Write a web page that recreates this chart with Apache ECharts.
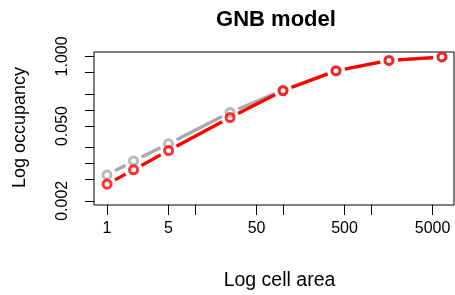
<!DOCTYPE html>
<html>
<head>
<meta charset="utf-8">
<script src="https://cdn.jsdelivr.net/npm/echarts@6/dist/echarts.min.js"></script>
<style>
  html, body { margin: 0; padding: 0; background: #fff; }
  #chart { width: 455px; height: 295px; }
</style>
</head>
<body>
<div id="chart"></div>
<script>
// cell areas and occupancies (both axes log10)
var areas = [1, 2, 5, 25, 100, 400, 1600, 6400];
var occObserved = [0.0061, 0.0111, 0.0232, 0.0894, 0.235, 0.53, 0.84, 0.975];
var occModel = [0.0041, 0.0076, 0.0174, 0.072, 0.228, 0.54, 0.84, 0.975];

var xTicks = [1, 5, 10, 50, 100, 500, 1000, 5000];
var xLabels = [1, 5, 50, 500, 5000];
var yTicks = [0.002, 0.005, 0.01, 0.02, 0.05, 0.1, 0.2, 0.5, 1];
var yLabels = [0.002, 0.05, 1];

var FONT = 'Liberation Sans';
var GAP = 9; // type="b" style gap round each point

function lg(v) { return Math.log10(v); }

function segments(name, ys, color, z) {
  var data = [];
  for (var i = 0; i < areas.length - 1; i++) {
    data.push([lg(areas[i]), lg(ys[i]), lg(areas[i + 1]), lg(ys[i + 1])]);
  }
  return {
    type: 'custom',
    name: name,
    data: data,
    z: z,
    silent: true,
    encode: { x: [0, 2], y: [1, 3] },
    renderItem: function (params, api) {
      var a = api.coord([api.value(0), api.value(1)]);
      var b = api.coord([api.value(2), api.value(3)]);
      var dx = b[0] - a[0], dy = b[1] - a[1];
      var len = Math.sqrt(dx * dx + dy * dy);
      if (len <= 2 * GAP) return;
      var ux = dx / len, uy = dy / len;
      return {
        type: 'line',
        shape: {
          x1: a[0] + ux * GAP, y1: a[1] + uy * GAP,
          x2: b[0] - ux * GAP, y2: b[1] - uy * GAP
        },
        style: { stroke: color, lineWidth: 3.3 }
      };
    }
  };
}

function points(name, ys, color, z) {
  return {
    type: 'scatter',
    name: name,
    z: z,
    silent: true,
    symbol: 'circle',
    symbolSize: 8,
    itemStyle: { color: 'rgba(0,0,0,0)', borderColor: color, borderWidth: 3 },
    data: areas.map(function (a, i) { return [lg(a), lg(ys[i])]; })
  };
}

var chart = echarts.init(document.getElementById('chart'));
var option = {
  animation: false,
  backgroundColor: '#fff',
  grid: {
    left: 94, right: 1, top: 52, bottom: 90,
    show: true, borderColor: '#000', borderWidth: 1
  },
  graphic: [
    {
      type: 'text', x: 276, y: 20,
      style: { text: 'GNB model', font: 'bold 22px "' + FONT + '"', fill: '#000',
               textAlign: 'center', textVerticalAlign: 'middle' }
    },
    {
      type: 'text', x: 279.5, y: 281,
      style: { text: 'Log cell area', font: '19.5px "' + FONT + '"', fill: '#000',
               textAlign: 'center', textVerticalAlign: 'middle' }
    },
    {
      type: 'text', x: 20, y: 127.5, rotation: Math.PI / 2,
      style: { text: 'Log occupancy', font: '18px "' + FONT + '"', fill: '#000',
               textAlign: 'center', textVerticalAlign: 'middle' }
    }
  ],
  xAxis: {
    type: 'value',
    min: -0.148,
    max: 3.943,
    splitLine: { show: false },
    axisLine: { show: false, onZero: false },
    axisTick: {
      show: true, length: 10,
      customValues: xTicks.map(lg),
      lineStyle: { color: '#000', width: 1 }
    },
    axisLabel: {
      customValues: xLabels.map(lg),
      margin: 15.5,
      color: '#000',
      fontSize: 16,
      fontFamily: FONT,
      formatter: function (v) { return String(Math.round(Math.pow(10, v))); }
    }
  },
  yAxis: {
    type: 'value',
    min: -2.777,
    max: 0.082,
    splitLine: { show: false },
    axisLine: { show: false, onZero: false },
    axisTick: {
      show: true, length: 9,
      customValues: yTicks.map(lg),
      lineStyle: { color: '#000', width: 1 }
    },
    axisLabel: {
      customValues: yLabels.map(lg),
      rotate: 90,
      margin: 23,
      color: '#000',
      fontSize: 16,
      fontFamily: FONT,
      formatter: function (v) { return Math.pow(10, v).toFixed(3); }
    }
  },
  series: [
    segments('observed', occObserved, '#a9a9a9', 2),
    points('observed', occObserved, '#a9a9a9', 3),
    segments('GNB', occModel, '#ff0000', 4),
    points('GNB', occModel, '#ff0000', 5)
  ]
};
chart.setOption(option);
window.addEventListener('resize', chart.resize);
</script>
</body>
</html>
